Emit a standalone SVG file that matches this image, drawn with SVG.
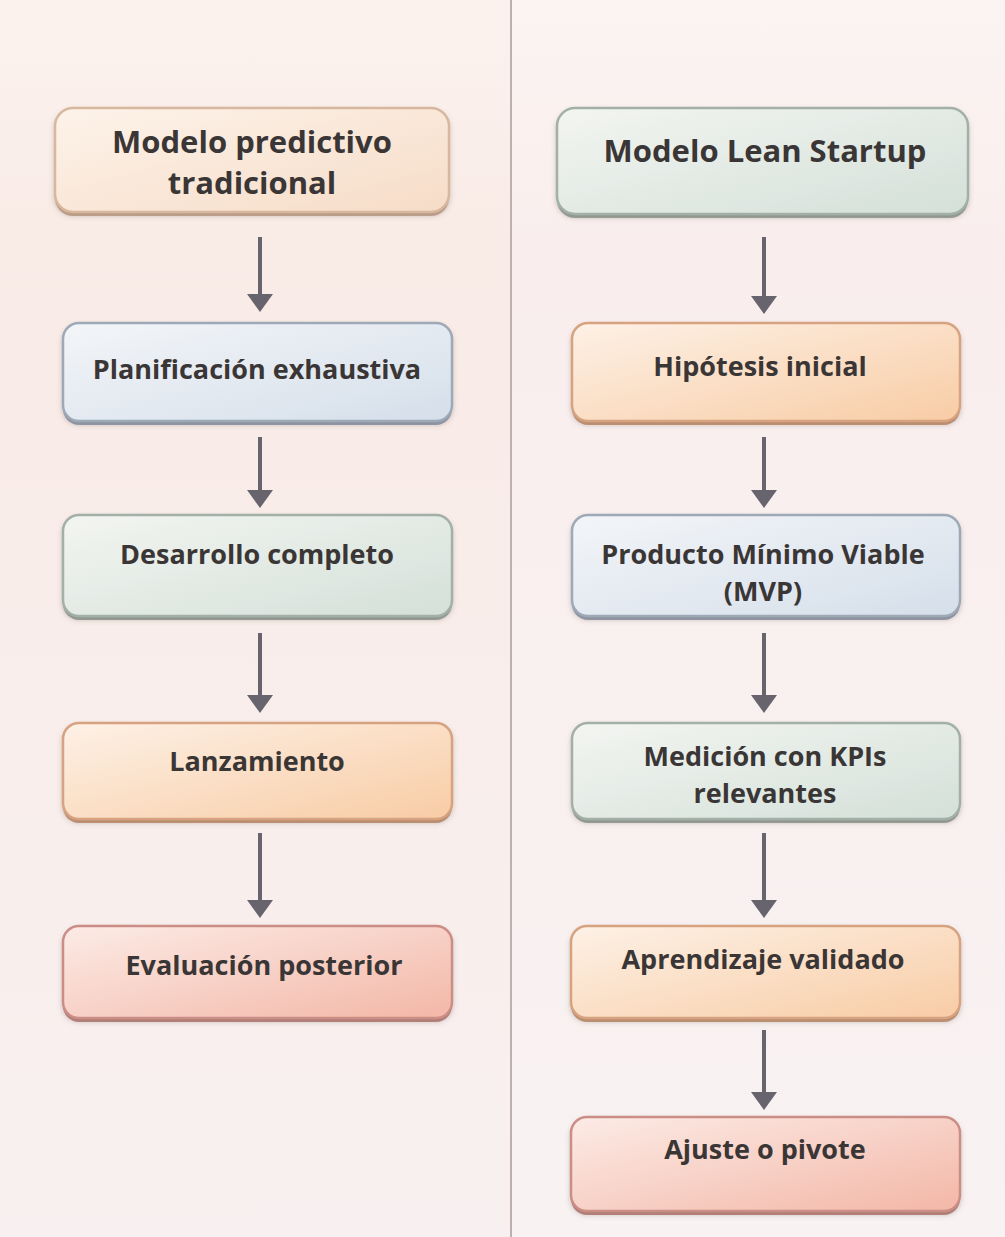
<svg xmlns="http://www.w3.org/2000/svg" width="1005" height="1237" viewBox="0 0 1005 1237">
<defs>
<linearGradient id="bgL" x1="0" y1="0" x2="0" y2="1"><stop offset="0" stop-color="#fbf2ee"/><stop offset="0.2" stop-color="#f9ebe6"/><stop offset="1" stop-color="#f8f0f0"/></linearGradient>
<linearGradient id="bgR" x1="0" y1="0" x2="0" y2="1"><stop offset="0" stop-color="#fbf4f2"/><stop offset="0.2" stop-color="#f9eeed"/><stop offset="1" stop-color="#f8f2f2"/></linearGradient>
<linearGradient id="gCream" x1="0" y1="0" x2="1" y2="1"><stop offset="0" stop-color="#fdf3ea"/><stop offset="1" stop-color="#f6dcc7"/></linearGradient>
<linearGradient id="gBlue" x1="0" y1="0" x2="1" y2="1"><stop offset="0" stop-color="#f3f5f8"/><stop offset="1" stop-color="#d5dfea"/></linearGradient>
<linearGradient id="gGreen" x1="0" y1="0" x2="1" y2="1"><stop offset="0" stop-color="#f3f5f1"/><stop offset="1" stop-color="#d4e0d9"/></linearGradient>
<linearGradient id="gOrange" x1="0" y1="0" x2="1" y2="1"><stop offset="0" stop-color="#fdf1e6"/><stop offset="1" stop-color="#f8cca5"/></linearGradient>
<linearGradient id="gRed" x1="0" y1="0" x2="1" y2="1"><stop offset="0" stop-color="#fcebe6"/><stop offset="1" stop-color="#f3b7a7"/></linearGradient>
<filter id="sh" x="-5%" y="-10%" width="110%" height="130%"><feDropShadow dx="0" dy="3" stdDeviation="2.5" flood-color="#6b5a55" flood-opacity="0.3"/></filter>
<marker id="ah" viewBox="0 0 18 26" refX="4" refY="13" markerWidth="18" markerHeight="26" markerUnits="userSpaceOnUse" orient="auto"><path d="M0,0 L18,13 L0,26 Z" fill="#67646e"/></marker>
<style>
.lbl{font-family:"Open Sans",Lato,"Liberation Sans",sans-serif;font-weight:700;fill:#3b3636;text-anchor:middle;font-size:27px}
.ttl{font-size:31px}
.box{stroke-width:2.5;filter:url(#sh)}
.cream{fill:url(#gCream);stroke:#d7b79e}
.blue{fill:url(#gBlue);stroke:#9ea9b8}
.green{fill:url(#gGreen);stroke:#a3b0a8}
.orange{fill:url(#gOrange);stroke:#d6a27f}
.red{fill:url(#gRed);stroke:#cb8e86}
.base-cream{fill:#cfae96}.base-blue{fill:#98a4b4}.base-green{fill:#9eaaa2}.base-orange{fill:#cf9c79}.base-red{fill:#c48880}
.conn line{stroke:#67646e;stroke-width:4;marker-end:url(#ah)}
</style>
</defs>
<rect x="0" y="0" width="511" height="1237" fill="url(#bgL)"/>
<rect x="511" y="0" width="494" height="1237" fill="url(#bgR)"/>
<line x1="511" y1="0" x2="511" y2="1237" stroke="#bfb0b0" stroke-width="2"/>

<g id="n-predictivo"><rect class="base-cream" x="55" y="112" width="394" height="104" rx="18"/><rect class="box cream" x="55" y="108" width="394" height="104" rx="18"/><text class="lbl ttl" x="252" y="153">Modelo predictivo</text><text class="lbl ttl" x="252" y="194">tradicional</text></g>
<g id="n-planificacion"><rect class="base-blue" x="63" y="327" width="389" height="98" rx="16"/><rect class="box blue" x="63" y="323" width="389" height="98" rx="16"/><text class="lbl" x="257" y="379">Planificación exhaustiva</text></g>
<g id="n-desarrollo"><rect class="base-green" x="63" y="519" width="389" height="101" rx="16"/><rect class="box green" x="63" y="515" width="389" height="101" rx="16"/><text class="lbl" x="257" y="564">Desarrollo completo</text></g>
<g id="n-lanzamiento"><rect class="base-orange" x="63" y="727" width="389" height="96" rx="16"/><rect class="box orange" x="63" y="723" width="389" height="96" rx="16"/><text class="lbl" x="257" y="771">Lanzamiento</text></g>
<g id="n-evaluacion"><rect class="base-red" x="63" y="930" width="389" height="92" rx="16"/><rect class="box red" x="63" y="926" width="389" height="92" rx="16"/><text class="lbl" x="264" y="975">Evaluación posterior</text></g>

<g id="n-lean"><rect class="base-green" x="557" y="112" width="411" height="106" rx="18"/><rect class="box green" x="557" y="108" width="411" height="106" rx="18"/><text class="lbl ttl" x="765" y="162">Modelo Lean Startup</text></g>
<g id="n-hipotesis"><rect class="base-orange" x="572" y="327" width="388" height="98" rx="16"/><rect class="box orange" x="572" y="323" width="388" height="98" rx="16"/><text class="lbl" x="760" y="376">Hipótesis inicial</text></g>
<g id="n-mvp"><rect class="base-blue" x="572" y="519" width="388" height="101" rx="16"/><rect class="box blue" x="572" y="515" width="388" height="101" rx="16"/><text class="lbl" x="763" y="564">Producto Mínimo Viable</text><text class="lbl" x="763" y="601">(MVP)</text></g>
<g id="n-medicion"><rect class="base-green" x="572" y="727" width="388" height="96" rx="16"/><rect class="box green" x="572" y="723" width="388" height="96" rx="16"/><text class="lbl" x="765" y="766">Medición con KPIs</text><text class="lbl" x="765" y="803">relevantes</text></g>
<g id="n-aprendizaje"><rect class="base-orange" x="571" y="930" width="389" height="92" rx="16"/><rect class="box orange" x="571" y="926" width="389" height="92" rx="16"/><text class="lbl" x="763" y="969">Aprendizaje validado</text></g>
<g id="n-ajuste"><rect class="base-red" x="571" y="1121" width="389" height="94" rx="16"/><rect class="box red" x="571" y="1117" width="389" height="94" rx="16"/><text class="lbl" x="765" y="1159">Ajuste o pivote</text></g>

<g id="connectors" class="conn">
<line x1="260" y1="237" x2="260" y2="298"/>
<line x1="260" y1="437" x2="260" y2="494"/>
<line x1="260" y1="633" x2="260" y2="699"/>
<line x1="260" y1="833" x2="260" y2="904"/>
<line x1="764" y1="237" x2="764" y2="300"/>
<line x1="764" y1="437" x2="764" y2="494"/>
<line x1="764" y1="633" x2="764" y2="699"/>
<line x1="764" y1="833" x2="764" y2="904"/>
<line x1="764" y1="1030" x2="764" y2="1096"/>
</g>
</svg>
